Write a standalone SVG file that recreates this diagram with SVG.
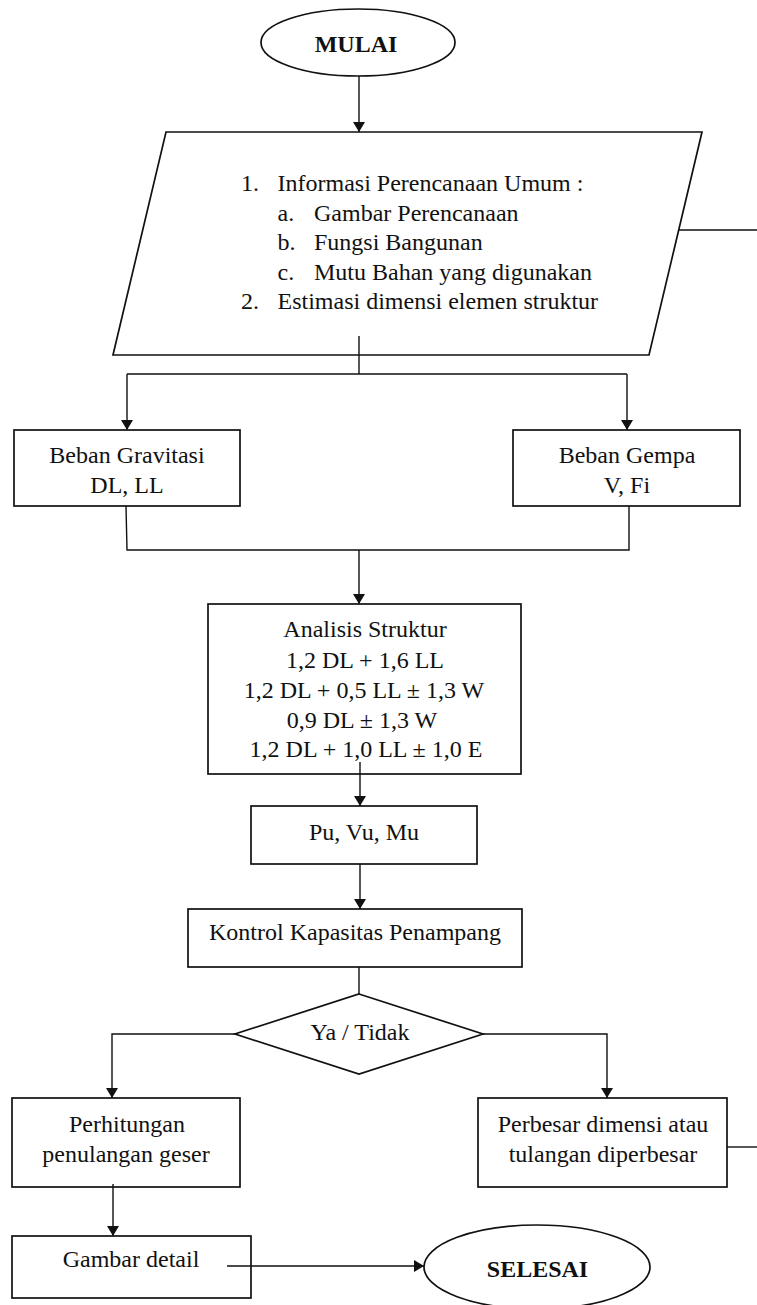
<svg xmlns="http://www.w3.org/2000/svg" width="757" height="1305" viewBox="0 0 757 1305">
  <style>
    .shape { fill: #ffffff; stroke: #111111; stroke-width: 1.7; }
    .conn { fill: none; stroke: #111111; stroke-width: 1.4; }
    .arrow { marker-end: url(#head); }
    text { font-family: "Liberation Serif", "Times New Roman", serif; font-size: 24px; fill: #111111; }
    .c { text-anchor: middle; }
    .b { font-weight: bold; }
  </style>
  <defs>
    <marker id="head" viewBox="0 0 10 12" refX="10" refY="6" markerWidth="10" markerHeight="12" markerUnits="userSpaceOnUse" orient="auto">
      <path d="M0,0 L10,6 L0,12 Z" fill="#111111"/>
    </marker>
  </defs>

  <rect width="757" height="1305" fill="#ffffff"/>

  <!-- nodes -->
  <g id="mulai">
    <ellipse class="shape" cx="358" cy="42.5" rx="97" ry="33.5"/>
    <text class="c b" x="356" y="52">MULAI</text>
  </g>

  <g id="input-data">
    <path class="shape" d="M166,132 L702,132 L649,355 L113,355 Z"/>
    <text x="241" y="191">1.</text>
    <text x="277.5" y="191">Informasi Perencanaan Umum :</text>
    <text x="277.5" y="220.5">a.</text>
    <text x="314" y="220.5">Gambar Perencanaan</text>
    <text x="277.5" y="250">b.</text>
    <text x="314" y="250">Fungsi Bangunan</text>
    <text x="277.5" y="279.5">c.</text>
    <text x="314" y="279.5">Mutu Bahan yang digunakan</text>
    <text x="241" y="309">2.</text>
    <text x="277.5" y="309">Estimasi dimensi elemen struktur</text>
  </g>

  <g id="beban-gravitasi">
    <rect class="shape" x="14" y="430" width="226" height="76"/>
    <text class="c" x="127" y="463">Beban Gravitasi</text>
    <text class="c" x="127" y="493">DL, LL</text>
  </g>

  <g id="beban-gempa">
    <rect class="shape" x="513" y="430" width="227" height="76"/>
    <text class="c" x="627" y="463">Beban Gempa</text>
    <text class="c" x="627" y="493">V, Fi</text>
  </g>

  <g id="analisis-struktur">
    <rect class="shape" x="208" y="604" width="313" height="170"/>
    <text class="c" x="365" y="637">Analisis Struktur</text>
    <text class="c" x="365" y="668">1,2 DL + 1,6 LL</text>
    <text class="c" x="364" y="698">1,2 DL + 0,5 LL ± 1,3 W</text>
    <text class="c" x="362" y="728">0,9 DL ± 1,3 W</text>
    <text class="c" x="366" y="757">1,2 DL + 1,0 LL ± 1,0 E</text>
  </g>

  <g id="gaya-dalam">
    <rect class="shape" x="251" y="806" width="226" height="58"/>
    <text class="c" x="364" y="840">Pu, Vu, Mu</text>
  </g>

  <g id="kontrol-kapasitas">
    <rect class="shape" x="188" y="909" width="334" height="58"/>
    <text class="c" x="355" y="940">Kontrol Kapasitas Penampang</text>
  </g>

  <g id="keputusan">
    <path class="shape" d="M359,994 L483,1034 L359,1074 L235,1034 Z"/>
    <text class="c" x="360" y="1040">Ya / Tidak</text>
  </g>

  <g id="penulangan-geser">
    <rect class="shape" x="12" y="1098" width="228" height="89"/>
    <text class="c" x="127" y="1132">Perhitungan</text>
    <text class="c" x="126" y="1162">penulangan geser</text>
  </g>

  <g id="perbesar-dimensi">
    <rect class="shape" x="478" y="1098" width="249" height="89"/>
    <text class="c" x="603" y="1132">Perbesar dimensi atau</text>
    <text class="c" x="603" y="1162">tulangan diperbesar</text>
  </g>

  <g id="gambar-detail">
    <rect class="shape" x="12" y="1236" width="239" height="62"/>
    <text class="c" x="131" y="1267">Gambar detail</text>
  </g>

  <g id="selesai">
    <ellipse class="shape" cx="537" cy="1267" rx="113" ry="42"/>
    <text class="c b" x="537.5" y="1277">SELESAI</text>
  </g>

  <!-- connectors -->
  <g id="connectors">
    <line class="conn arrow" x1="359" y1="76" x2="359" y2="132"/>
    <line class="conn" x1="679" y1="230" x2="757" y2="230"/>
    <line class="conn" x1="359" y1="336" x2="359" y2="374"/>
    <line class="conn" x1="127" y1="374" x2="627" y2="374"/>
    <line class="conn arrow" x1="127" y1="374" x2="127" y2="430"/>
    <line class="conn arrow" x1="627" y1="374" x2="627" y2="430"/>
    <polyline class="conn" points="126,506 127,550 629,550 629,506"/>
    <line class="conn arrow" x1="359" y1="550" x2="359" y2="604"/>
    <line class="conn arrow" x1="360" y1="762" x2="360" y2="806"/>
    <line class="conn arrow" x1="360" y1="864" x2="360" y2="909"/>
    <line class="conn" x1="359" y1="967" x2="359" y2="994"/>
    <polyline class="conn arrow" points="235,1034 112,1034 112,1098"/>
    <polyline class="conn arrow" points="483,1034 607,1034 607,1098"/>
    <line class="conn" x1="727" y1="1147" x2="757" y2="1147"/>
    <line class="conn arrow" x1="113" y1="1184" x2="113" y2="1236"/>
    <line class="conn arrow" x1="227" y1="1266" x2="424" y2="1266"/>
  </g>
</svg>
